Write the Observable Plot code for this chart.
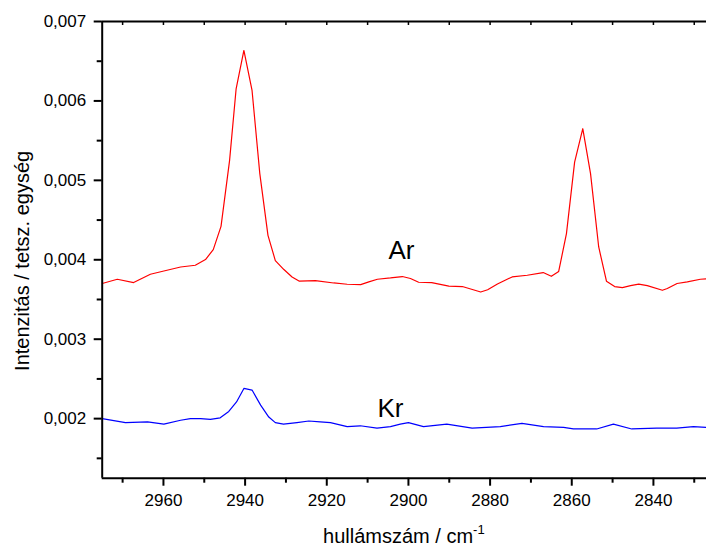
<!DOCTYPE html>
<html>
<head>
<meta charset="utf-8">
<script src="https://cdn.jsdelivr.net/npm/d3@7"></script>
<script src="https://cdn.jsdelivr.net/npm/@observablehq/plot@0.6"></script>
<style>
  html, body { margin: 0; padding: 0; background: #fff; }
  svg { display: block; }
</style>
</head>
<body>
<div id="chart"></div>
<script>
// Ar spectrum (wavenumber, intensity)
const arWavenumber = [2975, 2971.3, 2967.3, 2963.2, 2959.9, 2955.8, 2952.2, 2949.7, 2947.8, 2945.9, 2943.8, 2942.2, 2940.3, 2938.3, 2936.4, 2934.4, 2932.6, 2930.5, 2928.5, 2926.7, 2922.8, 2918.3, 2915.0, 2911.7, 2909.7, 2907.6, 2904.4, 2901.5, 2899.5, 2897.5, 2894.3, 2890.1, 2886.8, 2882.3, 2880.6, 2878.2, 2874.6, 2870.9, 2867.0, 2865.0, 2863.2, 2861.3, 2859.3, 2857.3, 2855.4, 2853.4, 2851.5, 2849.5, 2847.6, 2845.6, 2843.6, 2841.5, 2837.8, 2836.6, 2834.2, 2831.7, 2828.5, 2827.0];
const arIntensity = [0.003701, 0.003755, 0.003713, 0.003818, 0.003859, 0.003909, 0.003931, 0.004003, 0.004128, 0.004421, 0.005252, 0.006153, 0.006635, 0.006132, 0.005084, 0.004308, 0.00399, 0.003877, 0.003784, 0.00373, 0.003738, 0.003708, 0.003692, 0.003688, 0.003721, 0.003755, 0.003771, 0.003789, 0.003764, 0.003717, 0.003713, 0.003669, 0.003663, 0.003594, 0.003623, 0.003696, 0.003784, 0.003805, 0.003839, 0.003792, 0.003853, 0.00433, 0.00523, 0.00565, 0.005084, 0.004161, 0.00373, 0.003663, 0.00365, 0.003675, 0.003694, 0.003675, 0.003616, 0.003638, 0.003701, 0.003721, 0.003755, 0.003759];

// Kr spectrum (wavenumber, intensity)
const krWavenumber = [2975.0, 2969.3, 2963.9, 2959.9, 2955.8, 2953.4, 2950.9, 2948.5, 2946.1, 2944.0, 2942.1, 2940.3, 2938.3, 2936.2, 2934.2, 2932.6, 2930.6, 2927.3, 2924.4, 2921.6, 2919.1, 2915.0, 2911.8, 2907.7, 2904.4, 2902.0, 2900.0, 2896.3, 2890.6, 2884.4, 2877.5, 2872.2, 2866.9, 2862.0, 2859.6, 2853.9, 2849.8, 2845.3, 2839.2, 2834.3, 2830.2, 2827.1];
const krIntensity = [0.00200, 0.00195, 0.00196, 0.00193, 0.00198, 0.00200, 0.00200, 0.00199, 0.00201, 0.00209, 0.00221, 0.00238, 0.00236, 0.00217, 0.00202, 0.00195, 0.00193, 0.00195, 0.00197, 0.00196, 0.00195, 0.00190, 0.00191, 0.00188, 0.00190, 0.00193, 0.00195, 0.00190, 0.00193, 0.00188, 0.00190, 0.00194, 0.00190, 0.00189, 0.00187, 0.00187, 0.00193, 0.00187, 0.00188, 0.00188, 0.00190, 0.00189];

// Series labels
const seriesLabels = ["Ar", "Kr"];
const labelWavenumber = [2901.7, 2904.4];
const labelIntensity = [0.00411, 0.00213];

// Axes
const xDomain = [2975, 2827];
const yDomain = [0.00125, 0.007];
const xTicks = [2960, 2940, 2920, 2900, 2880, 2860, 2840];
const xMinorTicks = [2970, 2950, 2930, 2910, 2890, 2870, 2850, 2830];
const yTicks = [0.002, 0.003, 0.004, 0.005, 0.006, 0.007];
const yMinorTicks = [0.0015, 0.0025, 0.0035, 0.0045, 0.0055, 0.0065];
const xTitle = "hullámszám / cm";
const xTitleSup = "-1";
const yTitle = "Intenzitás / tetsz. egység";

const ar = arWavenumber.map((w, i) => ({w, v: arIntensity[i]}));
const kr = krWavenumber.map((w, i) => ({w, v: krIntensity[i]}));
const labels = seriesLabels.map((t, i) => ({t, w: labelWavenumber[i], v: labelIntensity[i]}));

const fmt = d => d.toFixed(3).replace(".", ",");
const font = "'Liberation Sans', Arial, Helvetica, sans-serif";
const W = 706, H = 546;
const mL = 101.7, mT = 21, mB = 68.3, mR = 0;

const svg = Plot.plot({
  width: W,
  height: H,
  marginLeft: mL,
  marginTop: mT,
  marginBottom: mB,
  marginRight: mR,
  style: {fontFamily: font, background: "#fff", color: "#000"},
  x: {domain: xDomain},
  y: {domain: yDomain},
  marks: [
    Plot.line(ar, {x: "w", y: "v", stroke: "#ff0000", strokeWidth: 1.2, clip: true}),
    Plot.line(kr, {x: "w", y: "v", stroke: "#0000ff", strokeWidth: 1.2, clip: true}),
    Plot.text(labels, {x: "w", y: "v", text: "t", fontSize: 26, fill: "#000"}),
    Plot.axisY({ticks: yTicks, tickSize: 8, tickPadding: 8, tickFormat: fmt, fontSize: 17, strokeWidth: 2, label: null}),
    Plot.axisY({ticks: yMinorTicks, tickSize: 5, tickFormat: () => "", strokeWidth: 2, label: null}),
    Plot.axisX({ticks: xTicks, tickSize: 8, tickPadding: 8, tickFormat: d => String(d), fontSize: 17, strokeWidth: 2, label: null}),
    Plot.axisX({ticks: xMinorTicks, tickSize: 5, tickFormat: () => "", strokeWidth: 2, label: null}),
    Plot.axisX({anchor: "top", ticks: xTicks.concat(xMinorTicks), tickSize: -3, tickFormat: () => "", strokeWidth: 1.5, label: null}),
    Plot.ruleX([xDomain[0]], {stroke: "#000", strokeWidth: 2}),
    Plot.ruleY([yDomain[0]], {stroke: "#000", strokeWidth: 2}),
    Plot.ruleY([yDomain[1]], {stroke: "#000", strokeWidth: 2}),
    Plot.text([yTitle], {frameAnchor: "left", text: d => d, rotate: -90, textAnchor: "middle", dx: -80, dy: 11, fontSize: 20, fill: "#000"})
  ]
});

// x-axis title with superscript
const s = d3.select(svg);
const t = s.append("text")
  .attr("x", (mL + W - mR) / 2)
  .attr("y", H - 3)
  .attr("text-anchor", "middle")
  .attr("font-family", font)
  .attr("font-size", 20)
  .attr("fill", "#000");
t.append("tspan").text(xTitle);
t.append("tspan").attr("font-size", 13).attr("dy", -9).text(xTitleSup);

document.getElementById("chart").appendChild(svg);
</script>
</body>
</html>
